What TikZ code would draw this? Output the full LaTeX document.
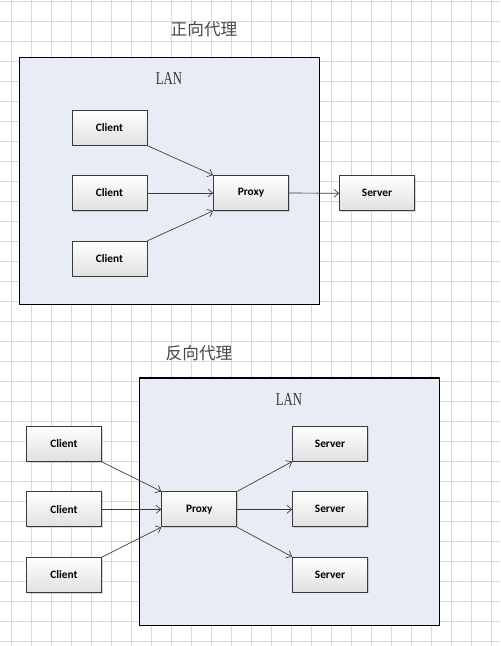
\documentclass[tikz,border=0pt]{standalone}
\usepackage{fontspec}
\setmainfont{Carlito}
\newfontfamily\cjkfont{Noto Sans CJK SC}
\newfontfamily\lanfont[FakeStretch=0.7]{Liberation Serif}
\usetikzlibrary{positioning,arrows.meta,shadows}
\definecolor{lanfill}{HTML}{E8ECF4}
\definecolor{gridgray}{HTML}{D9D9D9}
\definecolor{edgegray}{HTML}{3A3A3A}

\begin{document}
\begin{tikzpicture}[x=0.75pt, y=-0.75pt,
    gridline/.style={draw=gridgray, line width=0.75pt},
    lanbox/.style={draw=black, fill=lanfill, line width=0.9pt},
    lanlabel/.style={font=\lanfont\fontsize{13.6}{15}\selectfont, text=black!80},
    title/.style={font=\cjkfont\fontsize{12.5}{14}\selectfont, text=black!72},
    box/.style={draw=edgegray, line width=0.6pt, top color=white, bottom color=black!12,
        minimum width=56.25pt, minimum height=26.25pt, inner sep=0pt,
        font=\bfseries\fontsize{8.5}{9}\selectfont,
        drop shadow={shadow xshift=0.8pt, shadow yshift=-0.8pt, opacity=0.25, fill=black!60}},
    link/.style={draw=edgegray, line width=0.5pt, -{Straight Barb[length=3.5pt, width=6pt]}}
    ]
      \useasboundingbox (0,0) rectangle (500,646);
      \fill[white] (0,0) rectangle (500,646);

      % background grid
      \foreach \gx in {11.5,31.5,...,491.5}
          \draw[gridline] (\gx,0) -- (\gx,646);
      \foreach \gy in {1.5,21.5,...,641.5}
          \draw[gridline] (0,\gy) -- (500,\gy);

      % Forward proxy
      \node[title] (fwdtitle) at (204, 29) {正向代理};
      \draw[lanbox] (19.5,57.5) rectangle (319.5,304.5);
      \node[lanlabel] (fwdlan) at (169, 79) {LAN};
      \node[box] (fwdclienta) at (109.5, 127.75) {Client};
      \node[box] (fwdclientb) at (109.5, 193) {Client};
      \node[box] (fwdclientc) at (109.5, 258.7) {Client};
      \node[box] (fwdproxy) at (251, 193) {Proxy};
      \node[box] (fwdserver) at (377, 193.3) {Server};

      \draw[link] (fwdclienta.south east) -- (fwdproxy.north west);
      \draw[link] (fwdclientb.east) -- (fwdproxy.west);
      \draw[link] (fwdclientc.north east) -- (fwdproxy.south west);
      \draw[link] (fwdproxy.east) -- (fwdserver.west);

      % Reverse proxy
      \node[title] (revtitle) at (199, 353) {反向代理};
      \draw[lanbox] (139.5,378) rectangle (439.5,625.5);
      \node[lanlabel] (revlan) at (289, 400) {LAN};
      \node[box] (revclienta) at (64, 444) {Client};
      \node[box] (revclientb) at (64, 509.3) {Client};
      \node[box] (revclientc) at (64, 575) {Client};
      \node[box] (revproxy) at (199.2, 509.3) {Proxy};
      \node[box] (revservera) at (330, 443.7) {Server};
      \node[box] (revserverb) at (330, 509.3) {Server};
      \node[box] (revserverc) at (330, 574.7) {Server};

      \draw[link] (revclienta.south east) -- (revproxy.north west);
      \draw[link] (revclientb.east) -- (revproxy.west);
      \draw[link] (revclientc.north east) -- (revproxy.south west);
      \draw[link] (revproxy.north east) -- (revservera.south west);
      \draw[link] (revproxy.east) -- (revserverb.west);
      \draw[link] (revproxy.south east) -- (revserverc.north west);

\end{tikzpicture}
\end{document}
